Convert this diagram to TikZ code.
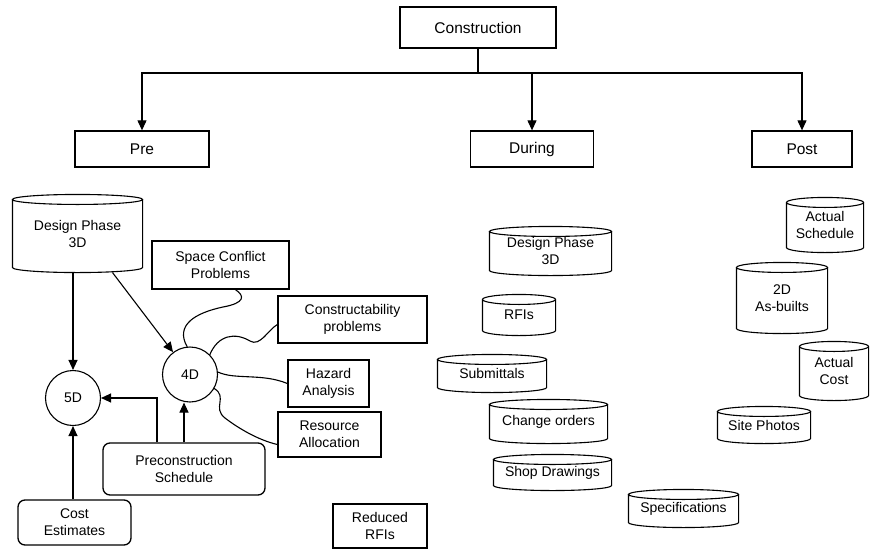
\documentclass[tikz,border=0pt]{standalone}
\usepackage{fontspec}
\setmainfont{Liberation Sans}
\usetikzlibrary{arrows.meta,positioning,shapes,calc}

\begin{document}
\begin{tikzpicture}[x=1pt,y=-1pt,line width=1.1pt,
    every node/.style={font=\fontsize{14}{17}\selectfont,align=center,inner sep=0pt},
    box/.style={rectangle,draw,line width=1.3pt},
    rbox/.style={rectangle,draw,rounded corners=7pt,line width=1.3pt},
    db/.style={rectangle},
    hit/.style={-{Triangle[length=10pt,width=9pt]}},
    wire/.style={line cap=round}]
    \useasboundingbox (0,0) rectangle (870,549);

    % Top level
    \node[box,minimum width=156pt,minimum height=41pt,font=\fontsize{15.5}{18}\selectfont] (constr) at (478,27.5) {Construction};
    \foreach \nm/\txt/\cx/\w in {pre/Pre/142/134pt, during/During/532/123pt, post/Post/802/100pt} {
        \node[box,minimum width=\w,minimum height=36pt,font=\fontsize{15.5}{18}\selectfont] (\nm) at (\cx,149) {\txt};
    }
    \coordinate (bus) at (478,73);
    \draw (constr) -- (bus);
    \foreach \nm in {pre,during,post} {
        \draw[hit] (bus) -| (\nm);
    }

    % Pre construction
    \node[db,minimum width=129pt,minimum height=77pt] (dpre) at (77.5,233.5) {Design Phase\\3D};
    \node[circle,draw,minimum size=55pt] (d5) at (73,398) {5D};
    \node[circle,draw,minimum size=55pt] (d4) at (190,374.5) {4D};
    \node[box,minimum width=137pt,minimum height=48pt] (spc) at (220.5,265) {Space Conflict\\Problems};
    \node[box,minimum width=149pt,minimum height=47pt] (cons) at (352.5,319.5) {Constructability\\problems};
    \node[box,minimum width=81pt,minimum height=47pt] (haz) at (328.5,383.5) {Hazard\\Analysis};
    \node[box,minimum width=103pt,minimum height=45pt] (res) at (329.5,434.5) {Resource\\Allocation};
    \node[rbox,minimum width=162pt,minimum height=52pt] (precon) at (184,469) {Preconstruction\\Schedule};
    \node[rbox,minimum width=113pt,minimum height=45pt] (cost) at (74.5,522.5) {Cost\\Estimates};
    \node[box,minimum width=94pt,minimum height=44pt] (rrfi) at (380,526) {Reduced\\RFIs};

    \draw[hit] (d5 |- dpre.south) -- (d5);
    \draw[hit] ([xshift=35pt]dpre.south) -- (d4);
    \draw[hit] (precon.north) -- (precon.north |- d4.south);
    \draw[hit] ([xshift=-27pt]precon.north) |- (d5);
    \draw[hit] (d5 |- cost.north) -- (d5);

    % 4D links
    \draw[wire] ([xshift=15pt]spc.south) .. controls (245,296) and (245,303) .. (223,307)
        .. controls (195,313) and (175,325) .. (d4.96);
    \draw[wire] (d4.45) .. controls (218,335) and (235,332) .. (250,341)
        .. controls (260,347) and (268,330) .. ([yshift=-5pt]cons.west);
    \draw[wire] (d4.5) .. controls (235,380) and (262,373) .. (haz.west);
    \draw[wire] (d4.-30) .. controls (228,397) and (212,408) .. (225,418)
        .. controls (238,428) and (258,440) .. ([yshift=-10pt]res.west);

    % During and post construction
    \foreach \nm/\txt/\cx/\cy/\w/\h in {
        dpdur/{Design Phase\\3D}/550.5/251/121pt/48pt,
        rfis/{RFIs}/519/315/72pt/40pt,
        subm/{Submittals}/492/373.5/108pt/37pt,
        chord/{Change orders}/548.5/421.5/117pt/43pt,
        shopd/{Shop Drawings}/552.5/472.5/117pt/35pt,
        specs/{Specifications}/683.5/508.5/109pt/37pt,
        actsch/{Actual\\Schedule}/825/225/76pt/54pt,
        asb/{2D\\As-builts}/782/298/90pt/70pt,
        actcost/{Actual\\Cost}/834/371/68pt/58pt,
        sitep/{Site Photos}/764/425/92pt/36pt} {
        \node[db,minimum width=\w,minimum height=\h] (\nm) at (\cx,\cy) {\txt};
    }

    % Cylinder outlines
    \foreach \c in {dpre,dpdur,rfis,subm,chord,shopd,specs,actsch,asb,actcost,sitep} {
        \draw let \p1=(\c.west), \p2=(\c.east) in
            ([yshift=-5pt]\c.north west) -- ([yshift=5pt]\c.south west)
            arc[start angle=180,end angle=360,x radius={0.5*(\x2-\x1)},y radius=5pt]
            -- ([yshift=-5pt]\c.north east)
            ([yshift=-5pt]\c.north) ellipse[x radius={0.5*(\x2-\x1)},y radius=5pt];
    }
\end{tikzpicture}
\end{document}
